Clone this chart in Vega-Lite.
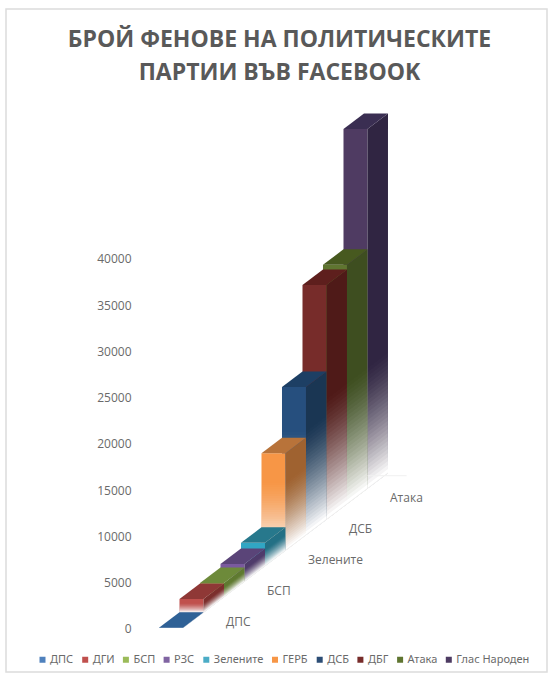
{
  "$schema": "https://vega.github.io/schema/vega-lite/v6.json",
  "width": 541,
  "height": 663,
  "autosize": {"type": "none"},
  "padding": {"left": 6, "top": 9, "right": 2, "bottom": 2},
  "background": "white",
  "view": {"stroke": "#dcdcdc", "strokeWidth": 1.5, "fill": "white"},
  "title": {
    "text": ["БРОЙ ФЕНОВЕ НА ПОЛИТИЧЕСКИТЕ", "ПАРТИИ ВЪВ FACEBOOK"],
    "font": "Open Sans",
    "fontWeight": "bold",
    "fontSize": 23,
    "lineHeight": 33,
    "color": "#595959",
    "anchor": "middle",
    "frame": "group",
    "dx": 3,
    "dy": 80
  },
  "data": {
    "values": [
      {"party": "Глас Народен", "fans": 38850, "rank": 9},
      {"party": "Атака", "fans": 25850, "rank": 8},
      {"party": "ДБГ", "fans": 25350, "rank": 7},
      {"party": "ДСБ", "fans": 16000, "rank": 6},
      {"party": "ГЕРБ", "fans": 10500, "rank": 5},
      {"party": "Зелените", "fans": 2500, "rank": 4},
      {"party": "РЗС", "fans": 1900, "rank": 3},
      {"party": "БСП", "fans": 1500, "rank": 2},
      {"party": "ДГИ", "fans": 1460, "rank": 1},
      {"party": "ДПС", "fans": 30, "rank": 0}
    ]
  },
  "transform": [
    {"calculate": "datum.rank * 1676", "as": "base"},
    {"calculate": "datum.base + datum.fans", "as": "peak"},
    {"calculate": "min(datum.fans * 0.7, 13000)", "as": "fade"}
  ],
  "layer": [
    {
      "transform": [
        {
          "calculate": "[{s:'front',x:datum.rank,y:datum.peak,y2:datum.base},{s:'front',x:datum.rank+1.17,y:datum.peak,y2:datum.base},{s:'side',x:datum.rank+1.17,y:datum.peak,y2:datum.base},{s:'side',x:datum.rank+2.17,y:datum.peak+1676,y2:datum.base+1676},{s:'top',x:datum.rank,y:datum.peak,y2:datum.peak},{s:'top',x:datum.rank+1,y:datum.peak+1676,y2:datum.peak},{s:'top',x:datum.rank+1.17,y:datum.peak+1676,y2:datum.peak},{s:'top',x:datum.rank+2.17,y:datum.peak+1676,y2:datum.peak+1676},{s:'fadeFront',x:datum.rank,y:0,y2:datum.base},{s:'fadeFront',x:datum.rank+1.17,y:0,y2:datum.base},{s:'fadeSide',x:datum.rank+1.17,y:0,y2:datum.base},{s:'fadeSide',x:datum.rank+2.17,y:0,y2:datum.base+1676}]",
          "as": "vertex"
        },
        {"flatten": ["vertex"]},
        {"calculate": "datum.vertex.x", "as": "vx"},
        {"calculate": "datum.vertex.y2", "as": "vy2"},
        {"calculate": "datum.vertex.s", "as": "face"},
        {
          "calculate": "indexof(datum.face, 'fade') === 0 ? [1,2,3,4,5,6,7,8,9,10,11,12,13,14,15,16,17,18,19,20,21,22,23,24,25,26,27,28,29,30] : [0]",
          "as": "band"
        },
        {"flatten": ["band"]},
        {
          "calculate": "datum.band > 0 ? datum.vy2 + datum.fade * (1 - (datum.band - 1) / 30) : datum.vertex.y",
          "as": "vy"
        },
        {
          "calculate": "datum.band > 0 ? 1 - (1 - pow(datum.band / 30, 1.3)) / (1 - pow((datum.band - 1) / 30, 1.3)) : 1",
          "as": "alpha"
        },
        {"calculate": "datum.band > 0 ? 'fade' : datum.party + '|' + datum.face", "as": "paint"},
        {"calculate": "datum.rank + '/' + datum.face + '/' + datum.band", "as": "shape"}
      ],
      "mark": {"type": "area", "interpolate": "linear"},
      "encoding": {
        "x": {"field": "vx", "type": "quantitative", "scale": {"domain": [-7.463, 18.927], "nice": false, "zero": false}, "axis": null},
        "y": {"field": "vy", "type": "quantitative", "stack": null, "scale": {"domain": [-4757, 66919], "nice": false}, "axis": {
          "values": [0, 5000, 10000, 15000, 20000, 25000, 30000, 35000, 40000],
          "format": "d",
          "title": null,
          "grid": false,
          "domain": false,
          "ticks": false,
          "offset": -125,
          "labelPadding": 0,
          "labelOffset": 1,
          "labelFont": "Open Sans",
          "labelFontSize": 12,
          "labelColor": "#6a6a6a"
        }},
        "y2": {"field": "vy2"},
        "detail": {"field": "shape"},
        "opacity": {"field": "alpha", "type": "quantitative", "scale": null},
        "fill": {
          "field": "paint",
          "type": "nominal",
          "legend": null,
          "scale": {
            "domain": [
              "ДПС|front", "ДПС|side", "ДПС|top",
              "ДГИ|front", "ДГИ|side", "ДГИ|top",
              "БСП|front", "БСП|side", "БСП|top",
              "РЗС|front", "РЗС|side", "РЗС|top",
              "Зелените|front", "Зелените|side", "Зелените|top",
              "ГЕРБ|front", "ГЕРБ|side", "ГЕРБ|top",
              "ДСБ|front", "ДСБ|side", "ДСБ|top",
              "ДБГ|front", "ДБГ|side", "ДБГ|top",
              "Атака|front", "Атака|side", "Атака|top",
              "Глас Народен|front", "Глас Народен|side", "Глас Народен|top",
              "fade"
            ],
            "range": [
              "#3a6ea8", "#2c5a8c", "#2f6196",
              "#c0504d", "#7c2f2d", "#8f3836",
              "#86a24a", "#5f7a30", "#6d8a3a",
              "#7a5a9e", "#4f3b6b", "#5a4478",
              "#31a6c4", "#237085", "#27788c",
              "#f79646", "#9f6230", "#b8733a",
              "#264f7e", "#1a3653", "#1d3f64",
              "#772c2a", "#4f1a18", "#5e1f1d",
              "#5f7530", "#3e4e20", "#47591f",
              "#4f3b62", "#302542", "#3a2e52",
              "#ffffff"
            ]
          }
        }
      }
    },
    {
      "transform": [
        {"calculate": "datum.rank + 2.17", "as": "edgeX"},
        {"calculate": "datum.base + 1676", "as": "edgeY"}
      ],
      "mark": {"type": "line", "color": "#f0f0f0", "strokeWidth": 1},
      "encoding": {
        "x": {"field": "edgeX", "type": "quantitative"},
        "y": {"field": "edgeY", "type": "quantitative"}
      }
    },
    {
      "transform": [
        {"filter": "datum.rank === 9"},
        {"calculate": "datum.rank + 1.17", "as": "backX"},
        {"calculate": "datum.rank + 3.08", "as": "backX2"},
        {"calculate": "datum.base + 1380", "as": "backY"}
      ],
      "mark": {"type": "rule", "color": "#f0f0f0", "strokeWidth": 1},
      "encoding": {
        "x": {"field": "backX", "type": "quantitative"},
        "x2": {"field": "backX2"},
        "y": {"field": "backY", "type": "quantitative"}
      }
    },
    {
      "transform": [
        {"filter": "datum.rank % 2 === 0"},
        {"calculate": "datum.rank + 3.27", "as": "labelX"},
        {"calculate": "datum.base + 650", "as": "labelY"}
      ],
      "mark": {"type": "text", "align": "left", "baseline": "middle", "font": "Open Sans", "fontSize": 12, "color": "#6a6a6a"},
      "encoding": {
        "x": {"field": "labelX", "type": "quantitative"},
        "y": {"field": "labelY", "type": "quantitative"},
        "text": {"field": "party"}
      }
    },
    {
      "mark": {"type": "point", "filled": true, "opacity": 0},
      "encoding": {
        "x": {"field": "rank", "type": "quantitative"},
        "y": {"field": "base", "type": "quantitative"},
        "color": {
          "field": "party",
          "type": "nominal",
          "scale": {
            "domain": ["ДПС", "ДГИ", "БСП", "РЗС", "Зелените", "ГЕРБ", "ДСБ", "ДБГ", "Атака", "Глас Народен"],
            "range": ["#4f81bd", "#c0504d", "#9bbb59", "#8064a2", "#4bacc6", "#f79646", "#2c4d75", "#772c2a", "#5f7530", "#4d3b62"]
          },
          "legend": {
            "orient": "none",
            "legendX": 31,
            "legendY": 645,
            "direction": "horizontal",
            "columns": 10,
            "title": null,
            "symbolType": "square",
            "symbolSize": 36,
            "symbolOpacity": 1,
            "symbolStrokeWidth": 0,
            "labelOffset": 2,
            "columnPadding": 5.7,
            "labelFont": "Noto Sans",
            "labelFontSize": 11,
            "labelColor": "#6a6a6a"
          }
        }
      }
    }
  ]
}
